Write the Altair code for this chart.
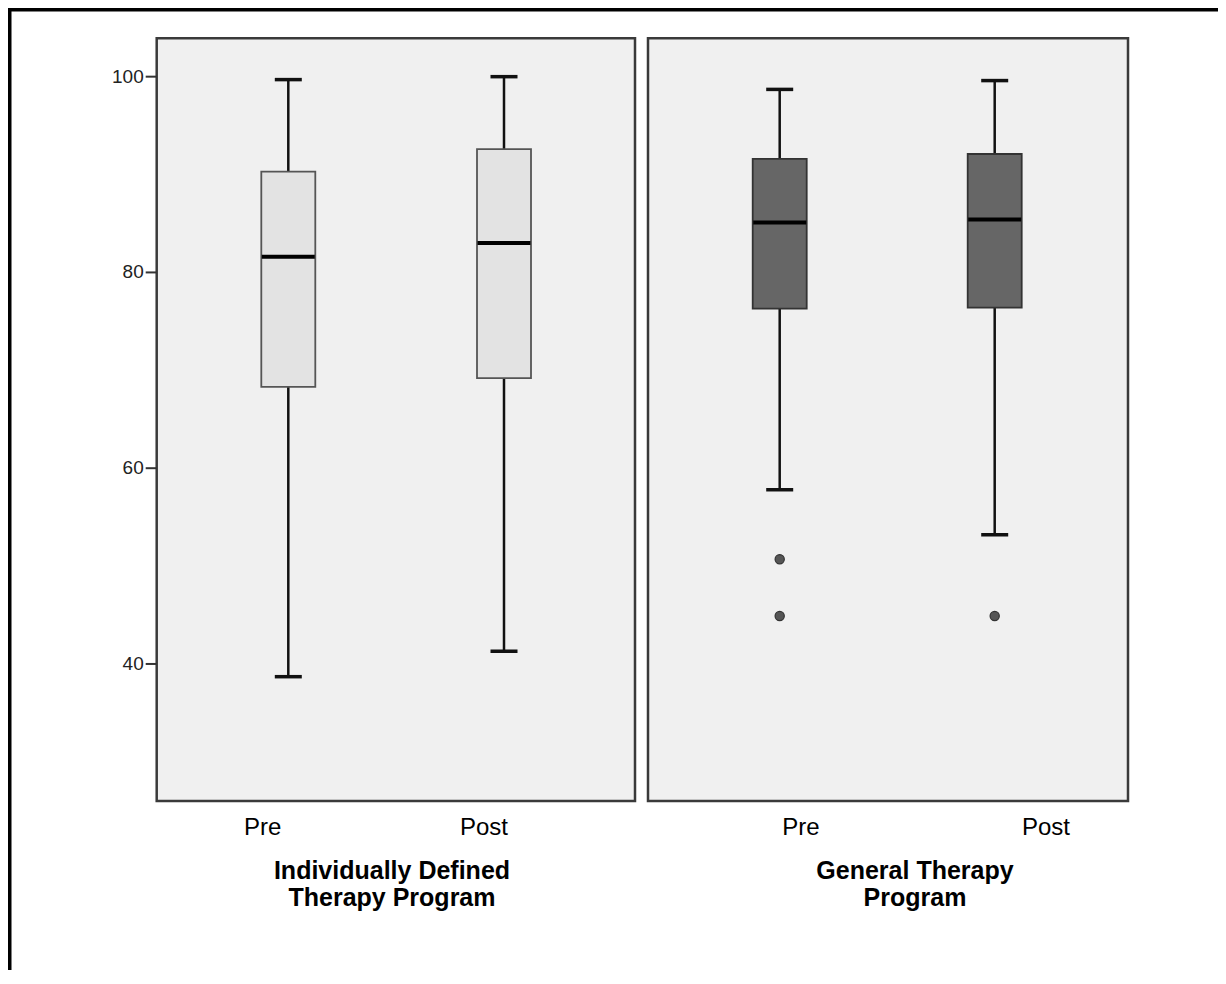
import altair as alt
import pandas as pd

# ---------------- data ----------------
conds = ["Pre", "Post"]
panel_titles = ["Individually Defined\nTherapy Program", "General Therapy\nProgram"]

# Panel 1: Individually Defined Therapy Program
p1_lo = [38.7, 41.3]
p1_q1 = [68.3, 69.2]
p1_med = [81.6, 83.0]
p1_q3 = [90.3, 92.6]
p1_hi = [99.7, 100.0]

# Panel 2: General Therapy Program
p2_lo = [57.8, 53.2]
p2_q1 = [76.3, 76.4]
p2_med = [85.1, 85.4]
p2_q3 = [91.6, 92.1]
p2_hi = [98.7, 99.6]
p2_out_cond = ["Pre", "Pre", "Post"]
p2_out_val = [50.7, 44.9, 44.9]

y_ticks = [40, 60, 80, 100]

# ---------------- layout (pixels, view coordinates) ----------------
W, H = 1210, 962
PANEL_TOP, PANEL_BOT = 30.3, 793
P1_X = (148.7, 627)
P2_X = (640, 1120)
P1_BOX = [280.3, 496]
P2_BOX = [771.7, 986.7]
P1_LAB = [254.7, 476]
P2_LAB = [793, 1038]
TITLE_X = [384, 907]
FONT = "Liberation Sans"

yscale = alt.Scale(domain=[26.0, 103.92], range=[PANEL_BOT, PANEL_TOP], nice=False, zero=False)


def stats_df(lo, q1, med, q3, hi):
    return pd.DataFrame({"cond": conds, "lo": lo, "q1": q1, "med": med, "q3": q3, "hi": hi})


def panel(df, xrange, px, box_fill, box_stroke, outliers=None, with_axis=False):
    xs = alt.Scale(type="point", domain=conds, range=xrange, padding=0)
    X = alt.X("cond:N", scale=xs, axis=None)
    bg = alt.Chart(pd.DataFrame({"p": [1]})).mark_rect(
        fill="#f0f0f0", stroke="#3a3a3a", strokeWidth=2.5
    ).encode(
        x=alt.value(px[0]), x2=alt.value(px[1]),
        y=alt.value(PANEL_TOP), y2=alt.value(PANEL_BOT),
    )
    base = alt.Chart(df)
    whisk = base.mark_rule(color="#111", strokeWidth=2.5, opacity=1).encode(
        x=X, y=alt.Y("lo:Q", scale=yscale, axis=None), y2="hi:Q"
    )
    box = base.mark_bar(size=54, fill=box_fill, stroke=box_stroke, strokeWidth=1.8, opacity=1).encode(
        x=X, y=alt.Y("q1:Q", scale=yscale, axis=None), y2="q3:Q"
    )
    cap_lo = base.mark_tick(size=27, thickness=3.5, color="#111", orient="horizontal", opacity=1).encode(
        x=X, y=alt.Y("lo:Q", scale=yscale, axis=None)
    )
    cap_hi = base.mark_tick(size=27, thickness=3.5, color="#111", orient="horizontal", opacity=1).encode(
        x=X, y=alt.Y("hi:Q", scale=yscale, axis=None)
    )
    med = base.mark_tick(size=53, thickness=4, color="#000", orient="horizontal", opacity=1).encode(
        x=X, y=alt.Y("med:Q", scale=yscale, axis=None)
    )
    layers = [bg, whisk, box, med, cap_lo, cap_hi]
    if outliers is not None:
        pts = alt.Chart(outliers).mark_point(
            filled=True, size=85, fill="#555555", stroke="#333333", strokeWidth=1.2, opacity=1
        ).encode(x=X, y=alt.Y("val:Q", scale=yscale, axis=None))
        layers.append(pts)
    if with_axis:
        tdf = pd.DataFrame({"t": y_ticks})
        trule = alt.Chart(tdf).mark_rule(color="#333", strokeWidth=2).encode(
            x=alt.value(px[0] - 11), x2=alt.value(px[0]),
            y=alt.Y("t:Q", scale=yscale, axis=None),
        )
        tlab = alt.Chart(tdf).mark_text(
            align="right", baseline="middle", fontSize=19, font=FONT, color="#222"
        ).encode(
            x=alt.value(px[0] - 13),
            y=alt.Y("t:Q", scale=yscale, axis=None),
            text="t:Q",
        )
        layers += [trule, tlab]
    return alt.layer(*layers)


p1 = panel(stats_df(p1_lo, p1_q1, p1_med, p1_q3, p1_hi), P1_BOX, P1_X, "#e3e3e3", "#555555", with_axis=True)
p2 = panel(
    stats_df(p2_lo, p2_q1, p2_med, p2_q3, p2_hi), P2_BOX, P2_X, "#666666", "#333333",
    outliers=pd.DataFrame({"cond": p2_out_cond, "val": p2_out_val}),
)


def cond_labels(xrange):
    return alt.Chart(pd.DataFrame({"cond": conds})).mark_text(
        fontSize=24, font=FONT, baseline="alphabetic", color="#000"
    ).encode(
        x=alt.X("cond:N", scale=alt.Scale(type="point", domain=conds, range=xrange, padding=0), axis=None),
        y=alt.value(827),
        text="cond:N",
    )


lab1 = cond_labels(P1_LAB)
lab2 = cond_labels(P2_LAB)

titles = alt.Chart(pd.DataFrame({"title": panel_titles})).mark_text(
    fontSize=25, font=FONT, fontWeight="bold", baseline="alphabetic", lineBreak="\n", lineHeight=27, color="#000"
).encode(
    x=alt.X("title:N", scale=alt.Scale(type="point", domain=panel_titles, range=TITLE_X, padding=0), axis=None),
    y=alt.value(871),
    text="title:N",
)

frame_df = pd.DataFrame({"f": [1]})
frame_left = alt.Chart(frame_df).mark_rule(color="black", strokeWidth=4, strokeCap="square").encode(
    x=alt.value(1.5), y=alt.value(1.5), y2=alt.value(H)
)
frame_top = alt.Chart(frame_df).mark_rule(color="black", strokeWidth=4, strokeCap="square").encode(
    x=alt.value(1.5), x2=alt.value(W), y=alt.value(1.5)
)

chart = alt.layer(p1, p2, lab1, lab2, titles, frame_left, frame_top).resolve_scale(
    x="independent", y="independent"
).properties(
    width=W, height=H, autosize="none", padding=0, background="white"
).configure_view(stroke=None)

chart.save("out.html", embed_options={"renderer": "svg", "actions": False})
